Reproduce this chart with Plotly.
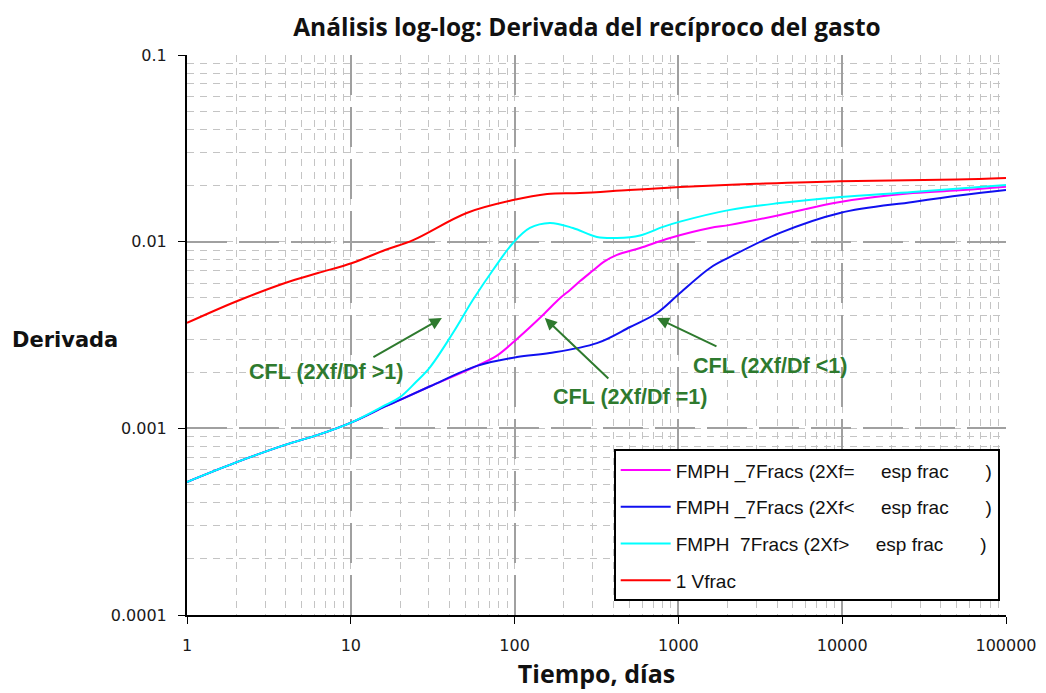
import numpy as np
import plotly.graph_objects as go

# ---- data ----
t_mag = [1, 1.96, 3.97, 6.3, 10.2, 16.2, 20, 30.5, 58.9, 78, 105, 149, 189, 218, 251, 301, 350, 422, 583, 889, 1560, 2066, 4170, 9700, 27000, 54600, 100000]
d_mag = [0.000516, 0.000653, 0.000815, 0.000922, 0.00108, 0.00131, 0.00142, 0.00168, 0.00216, 0.00245, 0.00305, 0.00405, 0.00497, 0.00551, 0.00615, 0.0070, 0.0078, 0.00849, 0.00925, 0.01047, 0.01184, 0.0123, 0.0139, 0.0163, 0.0182, 0.0189, 0.0197]

t_blue = [1, 1.96, 3.97, 6.3, 10.2, 16.2, 20, 30.5, 58.9, 103.5, 164, 318, 507, 740, 1023, 1560, 2066, 4170, 9700, 27000, 54600, 100000]
d_blue = [0.000516, 0.000653, 0.000815, 0.000922, 0.00108, 0.00131, 0.00142, 0.00168, 0.00216, 0.00241, 0.00253, 0.00286, 0.00349, 0.00415, 0.00531, 0.00723, 0.00828, 0.01114, 0.01425, 0.01633, 0.01778, 0.0189]

t_cyan = [1, 1.96, 3.97, 6.3, 10.2, 16.2, 20, 25, 30.5, 42, 55.7, 73.8, 97.8, 124, 164, 227, 318, 422, 583, 805, 1023, 2066, 4170, 9700, 27000, 100000]
d_cyan = [0.000516, 0.000653, 0.000815, 0.000922, 0.00108, 0.00133, 0.00147, 0.00177, 0.00213, 0.00324, 0.00488, 0.00705, 0.00984, 0.01184, 0.0126, 0.01184, 0.0106, 0.01047, 0.0108, 0.0120, 0.0128, 0.0148, 0.0161, 0.01734, 0.01845, 0.0201]

t_red = [1, 1.96, 3.97, 6.3, 10.2, 16.2, 24, 51, 98, 158, 251, 500, 1020, 3000, 9700, 50000, 100000]
d_red = [0.00367, 0.00475, 0.00601, 0.00679, 0.00769, 0.00903, 0.0102, 0.01425, 0.0167, 0.0180, 0.0182, 0.0189, 0.0196, 0.0204, 0.0211, 0.0215, 0.0219]

NB = "\u00a0"
names = ["FMPH _7Fracs (2Xf=" + NB * 5 + "esp frac" + NB * 7 + ")",
         "FMPH _7Fracs (2Xf<" + NB * 5 + "esp frac" + NB * 7 + ")",
         "FMPH" + NB * 2 + "7Fracs (2Xf>" + NB * 5 + "esp frac" + NB * 7 + ")",
         "1 Vfrac"]
colors = ["#ff00ff", "#1010f0", "#00ffff", "#ff0000"]

x_ticks = [1, 10, 100, 1000, 10000, 100000]
x_labels = ["1", "10", "100", "1000", "10000", "100000"]
y_ticks = [0.0001, 0.001, 0.01, 0.1]
y_labels = ["0.0001", "0.001", "0.01", "0.1"]

# annotations: text, text position, arrow head position, arrow tail offset (px)
ann_texts = ["CFL (2Xf/Df >1)", "CFL (2Xf/Df =1)", "CFL (2Xf/Df <1)"]
ann_text_x = [7.06, 507, 3623]
ann_text_y = [0.00200, 0.00147, 0.00216]
arrow_head_x = [36.0, 153, 740]
arrow_head_y = [0.0039, 0.0039, 0.0039]
arrow_ax = [-70, 65, 61]
arrow_ay = [40, 62, 29]

fig = go.Figure()
series = [(t_mag, d_mag), (t_blue, d_blue), (t_cyan, d_cyan), (t_red, d_red)]
for i, (t, d) in enumerate(series):
    fig.add_trace(go.Scatter(x=t, y=d, mode="lines", name=names[i],
                             legendgroup=f"g{i}",
                             line=dict(color=colors[i], width=2, shape="spline", smoothing=1.0)))

green = "#2e7a2e"
for i in range(3):
    fig.add_annotation(x=np.log10(arrow_head_x[i]), y=np.log10(arrow_head_y[i]),
                       xref="x", yref="y", ax=arrow_ax[i], ay=arrow_ay[i],
                       text="", showarrow=True, arrowhead=2, arrowsize=1.2,
                       arrowwidth=2, arrowcolor=green)
    fig.add_annotation(x=np.log10(ann_text_x[i]), y=np.log10(ann_text_y[i]),
                       xref="x", yref="y", text=ann_texts[i], showarrow=False,
                       font=dict(family="Liberation Sans", size=21.5, color=green, weight="bold"))

fig.add_annotation(x=-0.216, y=0.491, xref="paper", yref="paper", xanchor="left",
                   text="Derivada", showarrow=False,
                   font=dict(family="DejaVu Sans", size=21, color="#111", weight="bold"))

axis_common = dict(type="log", showline=True, linecolor="black", linewidth=2,
                   ticks="outside", ticklen=7, tickcolor="black",
                   showgrid=True, gridcolor="#a0a0a0", gridwidth=1.5, griddash="40px,12px",
                   tickfont=dict(family="DejaVu Sans", size=16, color="#1a1a1a"),
                   minor=dict(dtick="D1", showgrid=True, gridcolor="#c4c4c4", gridwidth=1,
                              griddash="7px,6px", ticks=""),
                   zeroline=False)

fig.update_xaxes(**axis_common, range=[0, 5], tickvals=x_ticks, ticktext=x_labels,
                 ticklabelstandoff=8,
                 title=dict(text="Tiempo, días", standoff=11,
                            font=dict(family="Open Sans", size=25, color="#111", weight="bold")))
fig.update_yaxes(**axis_common, range=[-4, -1], tickvals=y_ticks, ticktext=y_labels,
                 ticklabelstandoff=8)

fig.update_layout(
    width=1046, height=693,
    margin=dict(l=179, r=48, t=47, b=86),
    paper_bgcolor="white", plot_bgcolor="white",
    title=dict(text="Análisis log-log: Derivada del recíproco del gasto",
               x=0.5535, xanchor="center", y=0.985, yanchor="top",
               font=dict(family="Open Sans", size=24.5, color="#111", weight="bold")),
    legend=dict(x=0.521, y=0.296, xanchor="left", yanchor="top",
                bgcolor="white", bordercolor="black", borderwidth=2,
                font=dict(family="Liberation Sans", size=19, color="#111"),
                traceorder="grouped", tracegroupgap=9, itemwidth=50),
    showlegend=True,
)

fig.write_html("out.html")
